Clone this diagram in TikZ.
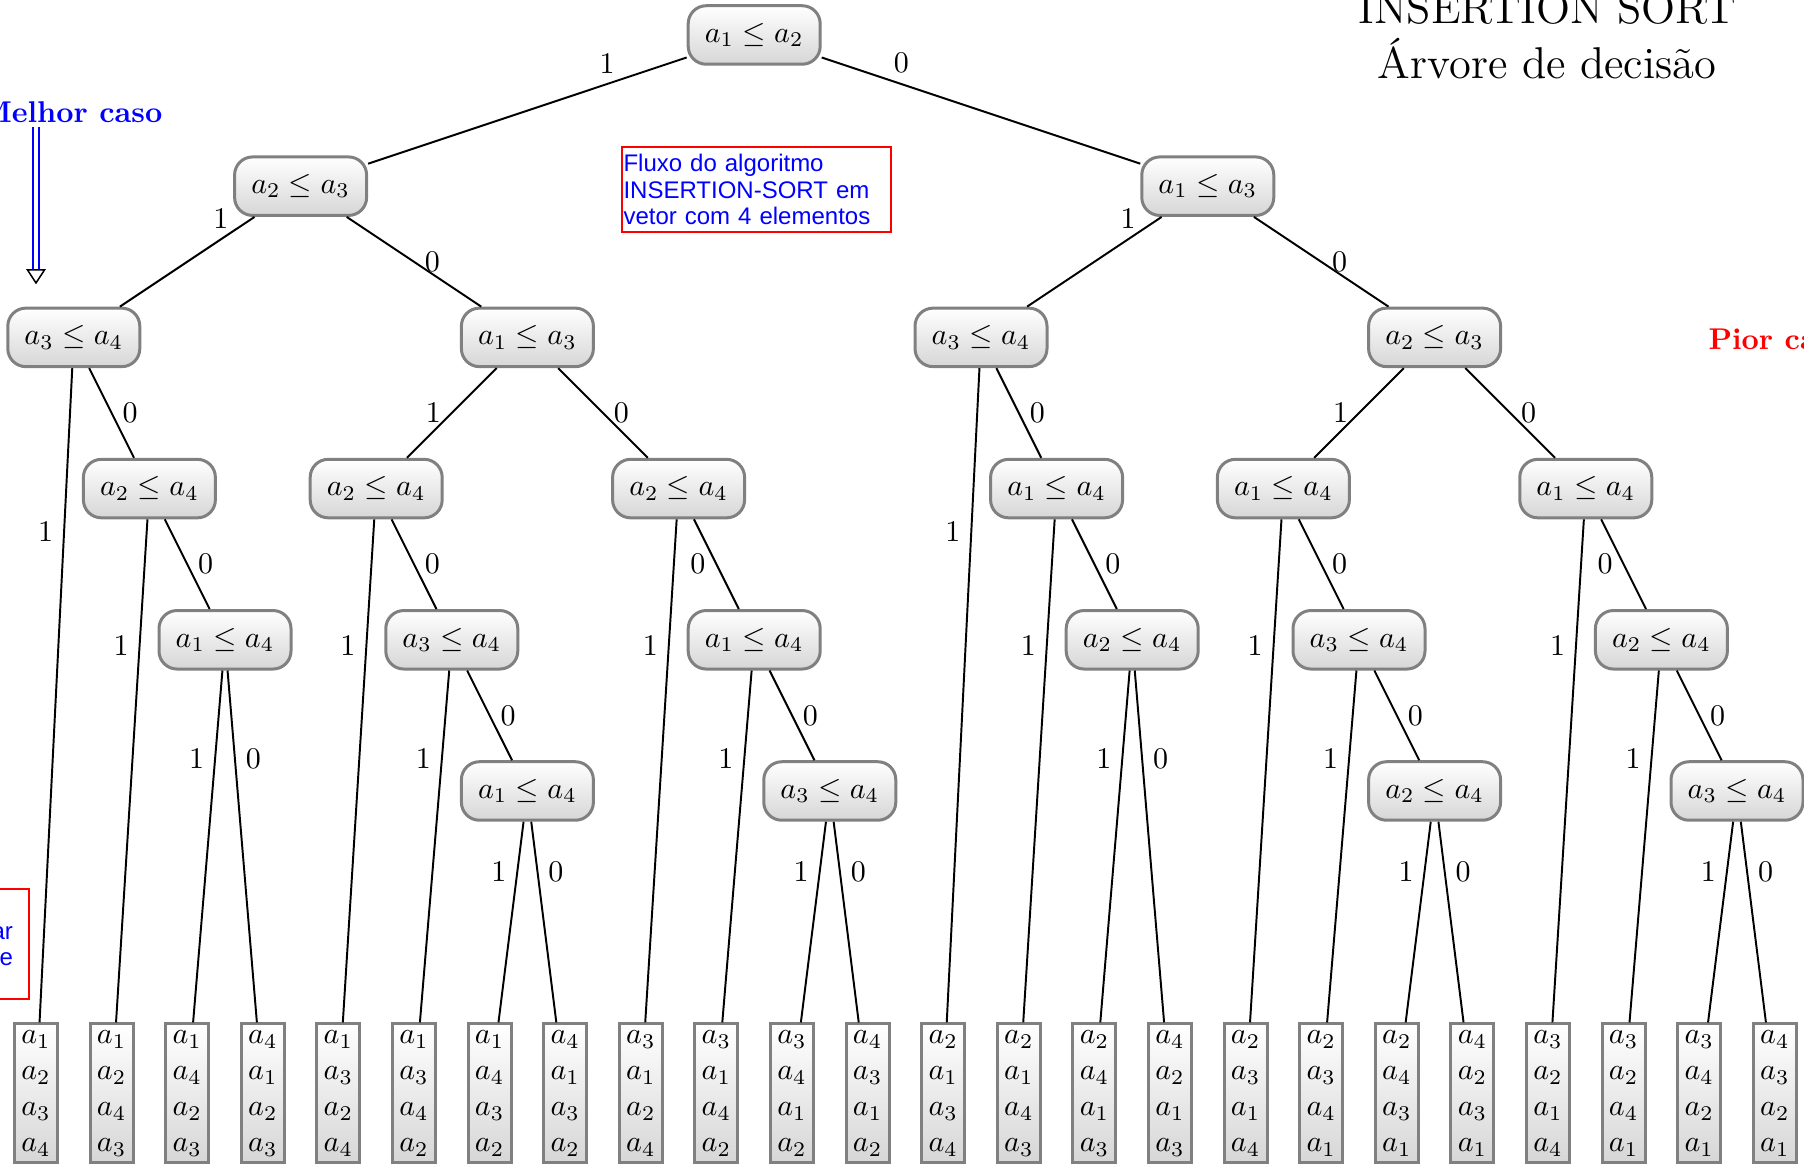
\documentclass[tikz,border=0pt]{standalone}
\usepackage{fontspec}
\newfontfamily\notefont{Liberation Sans}
\usetikzlibrary{calc}
\definecolor{nodegray}{HTML}{808080}
\begin{document}
\begin{tikzpicture}[x=25.2pt, y=-50.4pt,
  test/.style={draw=nodegray, line width=1pt, rounded corners=6pt,
    top color=white, bottom color=black!16,
    minimum width=44pt, minimum height=19.5pt, inner sep=0pt},
  leafbox/.style={draw=nodegray, line width=1pt,
    top color=white, bottom color=black!16,
    minimum width=14.3pt, minimum height=46.3pt, inner sep=0pt, align=center},
  edgeline/.style={line width=0.65pt},
  note/.style={draw=red, line width=0.7pt, text=blue,
    font=\notefont\fontsize{8}{8.7}\selectfont, inner xsep=0.5pt, inner ysep=1.5pt}]

\useasboundingbox (-0.47619,-0.23148) rectangle (23.38624,7.48016);

% title and annotations
\node[anchor=north, inner sep=0pt, align=center,
  font=\fontsize{14.85}{18.3}\selectfont] (title)
  at (19.987,-0.289) {INSERTION SORT\\Árvore de decisão};
\node[anchor=base east, inner sep=0pt, text=blue, font=\bfseries] (best)
  at (1.679,0.576) {Melhor caso};
\node[anchor=base west, inner sep=0pt, text=red, font=\bfseries] (worst)
  at (22.116,2.077) {Pior caso};
\node[note, anchor=north west, text width=88.7pt, align=left, inner ysep=2.5pt] (flow)
  at (7.7381,0.7341) {Fluxo do algoritmo\\INSERTION-SORT em\\vetor com 4 elementos};
\node[note, anchor=north east, text width=80pt, align=right, inner xsep=5.33pt,
  text height=5.7pt, minimum height=36.7pt] (cmp) at (-0.0794,5.6415) {ar\\e};

% best-case arrow
\coordinate (bestFrom) at (0,0.6085);
\coordinate (bestTip) at (0,1.640);
\draw[blue, line width=0.65pt, double=white, double distance=1.1pt]
  (bestFrom) -- ($(bestTip)+(0,4.33pt)$);
\draw[black, fill=white, line width=0.5pt]
  (bestTip) -- ++(-2.83pt,4.33pt) -- ++(5.67pt,0) -- cycle;

% comparison nodes
\node[test] (root) at (9.5,0) {$a_1 \leq a_2$};
\node[test] (A) at (3.5,1) {$a_2 \leq a_3$};
\node[test] (B) at (15.5,1) {$a_1 \leq a_3$};
\node[test] (C) at (0.5,2) {$a_3 \leq a_4$};
\node[test] (D) at (6.5,2) {$a_1 \leq a_3$};
\node[test] (M) at (12.5,2) {$a_3 \leq a_4$};
\node[test] (N) at (18.5,2) {$a_2 \leq a_3$};
\node[test] (E) at (1.5,3) {$a_2 \leq a_4$};
\node[test] (G) at (4.5,3) {$a_2 \leq a_4$};
\node[test] (H) at (8.5,3) {$a_2 \leq a_4$};
\node[test] (O) at (13.5,3) {$a_1 \leq a_4$};
\node[test] (Q) at (16.5,3) {$a_1 \leq a_4$};
\node[test] (R) at (20.5,3) {$a_1 \leq a_4$};
\node[test] (F) at (2.5,4) {$a_1 \leq a_4$};
\node[test] (I) at (5.5,4) {$a_3 \leq a_4$};
\node[test] (K) at (9.5,4) {$a_1 \leq a_4$};
\node[test] (P) at (14.5,4) {$a_2 \leq a_4$};
\node[test] (S) at (17.5,4) {$a_3 \leq a_4$};
\node[test] (U) at (21.5,4) {$a_2 \leq a_4$};
\node[test] (J) at (6.5,5) {$a_1 \leq a_4$};
\node[test] (L) at (10.5,5) {$a_3 \leq a_4$};
\node[test] (T) at (18.5,5) {$a_2 \leq a_4$};
\node[test] (V) at (22.5,5) {$a_3 \leq a_4$};

% resulting orders
\foreach \p/\q/\r/\s [count=\i from 0] in {1/2/3/4, 1/2/4/3, 1/4/2/3, 4/1/2/3,
    1/3/2/4, 1/3/4/2, 1/4/3/2, 4/1/3/2, 3/1/2/4, 3/1/4/2, 3/4/1/2, 4/3/1/2,
    2/1/3/4, 2/1/4/3, 2/4/1/3, 4/2/1/3, 2/3/1/4, 2/3/4/1, 2/4/3/1, 4/2/3/1,
    3/2/1/4, 3/2/4/1, 3/4/2/1, 4/3/2/1}
  \node[leafbox] (l\i) at (\i,7) {$a_{\p}$\\$a_{\q}$\\$a_{\r}$\\$a_{\s}$};

% branches
\begin{scope}[edgeline]
\draw (root) -- node[pos=.25, above]{1} (A);
\draw (root) -- node[pos=.25, above]{0} (B);
\draw (A) -- node[pos=.25, above]{1} (C);
\draw (A) -- node[midway, right]{0} (D);
\draw (B) -- node[pos=.25, above]{1} (M);
\draw (B) -- node[midway, right]{0} (N);
\draw (C) -- node[pos=.25, left]{1} (l0);
\draw (C) -- node[midway, right]{0} (E);
\draw (D) -- node[midway, left]{1} (G);
\draw (D) -- node[midway, right]{0} (H);
\draw (M) -- node[pos=.25, left]{1} (l12);
\draw (M) -- node[midway, right]{0} (O);
\draw (N) -- node[midway, left]{1} (Q);
\draw (N) -- node[midway, right]{0} (R);
\draw (E) -- node[pos=.25, left]{1} (l1);
\draw (E) -- node[midway, right]{0} (F);
\draw (G) -- node[pos=.25, left]{1} (l4);
\draw (G) -- node[midway, right]{0} (I);
\draw (H) -- node[pos=.25, left]{1} (l8);
\draw (H) -- node[midway, left]{0} (K);
\draw (O) -- node[pos=.25, left]{1} (l13);
\draw (O) -- node[midway, right]{0} (P);
\draw (Q) -- node[pos=.25, left]{1} (l16);
\draw (Q) -- node[midway, right]{0} (S);
\draw (R) -- node[pos=.25, left]{1} (l20);
\draw (R) -- node[midway, left]{0} (U);
\draw (F) -- node[pos=.25, left]{1} (l2);
\draw (F) -- node[pos=.25, right]{0} (l3);
\draw (I) -- node[pos=.25, left]{1} (l5);
\draw (I) -- node[midway, right]{0} (J);
\draw (K) -- node[pos=.25, left]{1} (l9);
\draw (K) -- node[midway, right]{0} (L);
\draw (P) -- node[pos=.25, left]{1} (l14);
\draw (P) -- node[pos=.25, right]{0} (l15);
\draw (S) -- node[pos=.25, left]{1} (l17);
\draw (S) -- node[midway, right]{0} (T);
\draw (U) -- node[pos=.25, left]{1} (l21);
\draw (U) -- node[midway, right]{0} (V);
\draw (J) -- node[pos=.25, left]{1} (l6);
\draw (J) -- node[pos=.25, right]{0} (l7);
\draw (L) -- node[pos=.25, left]{1} (l10);
\draw (L) -- node[pos=.25, right]{0} (l11);
\draw (T) -- node[pos=.25, left]{1} (l18);
\draw (T) -- node[pos=.25, right]{0} (l19);
\draw (V) -- node[pos=.25, left]{1} (l22);
\draw (V) -- node[pos=.25, right]{0} (l23);
\end{scope}
\end{tikzpicture}
\end{document}
